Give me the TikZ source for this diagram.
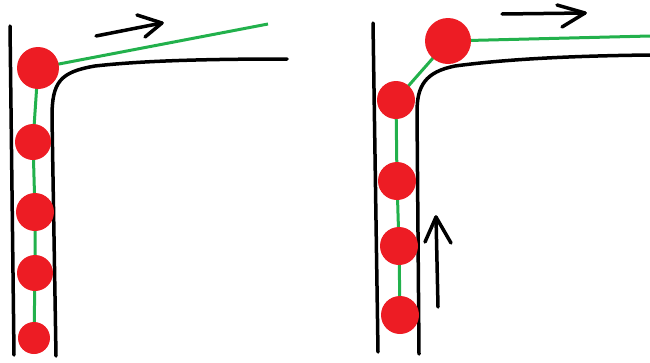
\documentclass[tikz,border=0pt]{standalone}
\usetikzlibrary{backgrounds}
\definecolor{ballred}{HTML}{ED1C24}
\definecolor{linkgreen}{HTML}{22B14C}
\tikzset{
  wall/.style={draw=black, line width=3.5pt, line cap=round, line join=round},
  link/.style={draw=linkgreen, line width=3pt},
  ball/.style={circle, fill=ballred, inner sep=0pt, minimum size=#1},
  ball/.default=36pt,
  stroke/.style={draw=black, line width=3.5pt, line cap=round, line join=round}
}
\begin{document}
\begin{tikzpicture}[x=1pt, y=-1pt]
\useasboundingbox (0,0) rectangle (650,362);

% ---------- left channel ----------
\draw[wall] (10,26) -- (14,355);
\draw[wall] (56,356) -- (52,117) .. controls (52,82) and (60,72) .. (95,66)
  .. controls (140,61) and (200,59) .. (287,59);

\node[ball=42pt] (a1) at (38,68) {};
\node[ball=36pt] (a2) at (33,142) {};
\node[ball=38pt] (a3) at (35,212) {};
\node[ball=36pt] (a4) at (35,273) {};
\node[ball=32pt] (a5) at (34,338) {};
\coordinate (aend) at (268,24);

\begin{scope}[on background layer]
  \draw[link] (a1.center) -- (a2.center) -- (a3.center) -- (a4.center) -- (a5.center);
  \draw[link] (a1.center) -- (aend);
\end{scope}

% direction of motion
\coordinate (p1) at (96,36);
\coordinate (p2) at (162,23);
\coordinate (p3) at (137,15);
\coordinate (p4) at (145,37);
\draw[stroke] (p1) -- (p2);
\draw[stroke] (p3) -- (p2) -- (p4);

% ---------- right channel ----------
\draw[wall] (373,23) -- (378,352);
\draw[wall] (419,354) -- (417,112) .. controls (417,86) and (425,72) .. (455,66)
  .. controls (500,60) and (560,56) .. (650,55);

\node[ball=46pt] (b1) at (448,41) {};
\node[ball=38pt] (b2) at (396,100) {};
\node[ball=38pt] (b3) at (397,181) {};
\node[ball=38pt] (b4) at (399,246) {};
\node[ball=38pt] (b5) at (400,315) {};
\coordinate (bend) at (650,36);

\begin{scope}[on background layer]
  \draw[link] (b5.center) -- (b4.center) -- (b3.center) -- (b2.center) -- (b1.center);
  \draw[link] (b1.center) -- (bend);
\end{scope}

% horizontal arrow
\coordinate (q1) at (502,14);
\coordinate (q2) at (585,13);
\coordinate (q3) at (557,5);
\coordinate (q4) at (562,27);
\draw[stroke] (q1) -- (q2);
\draw[stroke] (q3) -- (q2) -- (q4);

% upward arrow
\coordinate (r1) at (438,307);
\coordinate (r2) at (436,217);
\coordinate (r3) at (425,242);
\coordinate (r4) at (451,243);
\draw[stroke] (r1) -- (r2);
\draw[stroke] (r3) -- (r2) -- (r4);
\end{tikzpicture}
\end{document}
